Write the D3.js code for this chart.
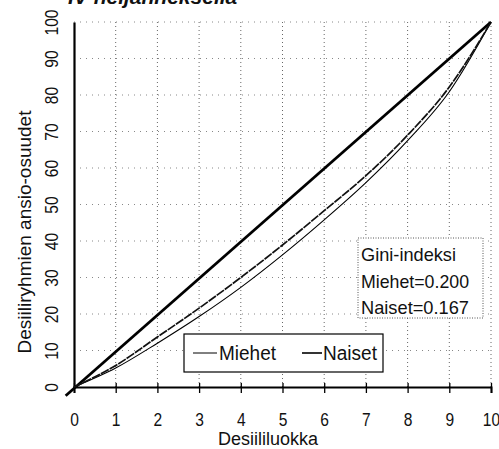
<!DOCTYPE html>
<html>
<head>
<meta charset="utf-8">
<script src="https://d3js.org/d3.v7.min.js"></script>
<style>
  body { margin: 0; background: #fff; }
  text { font-family: "Liberation Sans", Arial, sans-serif; fill: #111; }
</style>
</head>
<body>
<div id="chart"></div>
<script>
// data
var deciles = [0, 1, 2, 3, 4, 5, 6, 7, 8, 9, 10];
var miehet = [0, 5.2, 12.0, 19.3, 27.3, 36.2, 45.8, 56.0, 67.5, 80.9, 100];
var naiset = [0, 5.9, 13.7, 21.6, 30.0, 38.9, 48.3, 57.9, 69.0, 82.2, 100];
var xTicks = [0, 1, 2, 3, 4, 5, 6, 7, 8, 9, 10];
var yTicks = [0, 10, 20, 30, 40, 50, 60, 70, 80, 90, 100];
var giniLines = ["Gini-indeksi", "Miehet=0.200", "Naiset=0.167"];
var seriesNames = ["Miehet", "Naiset"];

// dimensions and margins
var margin = {top: 22, right: 8, bottom: 62, left: 74},
  width = 499 - margin.left - margin.right,
  height = 449 - margin.top - margin.bottom;

var svg = d3.select("#chart")
  .append("svg")
  .attr("width", 499)
  .attr("height", 449);

// cut-off title at the very top
svg.append("text")
  .attr("x", 68)
  .attr("y", 4)
  .style("font-size", "21px")
  .style("font-weight", "bold")
  .style("font-style", "italic")
  .text("IV neljänneksellä");

var g = svg.append("g")
  .attr("transform", "translate(" + margin.left + "," + margin.top + ")");

var x = d3.scaleLinear().domain([0, 10]).range([0, width]);
var y = d3.scaleLinear().domain([0, 100]).range([height, 0]);

// dotted grid
g.selectAll(".vgrid")
  .data(xTicks.slice(1))
  .enter()
  .append("line")
  .attr("x1", function(d) { return x(d); })
  .attr("x2", function(d) { return x(d); })
  .attr("y1", 0)
  .attr("y2", height)
  .style("stroke", "#666")
  .style("stroke-width", 1)
  .style("stroke-dasharray", "1,3");

g.selectAll(".hgrid")
  .data(yTicks.slice(1))
  .enter()
  .append("line")
  .attr("x1", 0)
  .attr("x2", width)
  .attr("y1", function(d) { return y(d); })
  .attr("y2", function(d) { return y(d); })
  .style("stroke", "#888")
  .style("stroke-width", 1)
  .style("stroke-dasharray", "1,5");

// x axis
var xAxis = g.append("g")
  .attr("transform", "translate(0," + height + ")")
  .call(d3.axisBottom(x).tickValues(xTicks).tickSize(6).tickPadding(20).tickFormat(d3.format("d")));
xAxis.select(".domain").style("stroke", "#000").style("stroke-width", 2);
xAxis.selectAll(".tick line").attr("y1", -4).style("stroke-width", 1.3);
xAxis.selectAll(".tick text")
  .style("font-size", "19px")
  .attr("dy", "0.71em")
  .attr("transform", "scale(0.82,1)");

// y axis
var yAxis = g.append("g")
  .call(d3.axisLeft(y).tickValues(yTicks).tickSize(0).tickFormat(d3.format("d")));
yAxis.select(".domain").style("stroke", "#000").style("stroke-width", 2.2);
yAxis.selectAll(".tick text")
  .style("font-size", "19px")
  .attr("text-anchor", "middle")
  .attr("x", 0)
  .attr("dy", 0)
  .attr("transform", "translate(-16,0) rotate(-90) scale(0.82,1)");

// axis titles
svg.append("text")
  .attr("x", 268)
  .attr("y", 445)
  .attr("text-anchor", "middle")
  .style("font-size", "18px")
  .text("Desiililuokka");

svg.append("text")
  .attr("transform", "translate(31,232) rotate(-90)")
  .attr("text-anchor", "middle")
  .style("font-size", "19px")
  .text("Desiiliryhmien ansio-osuudet");

// equality line
g.append("line")
  .attr("x1", x(-0.2))
  .attr("y1", y(-2.4))
  .attr("x2", x(10))
  .attr("y2", y(100))
  .style("stroke", "#000")
  .style("stroke-width", 2.8);

// lorenz curves
var line = d3.line()
  .x(function(d) { return x(d[0]); })
  .y(function(d) { return y(d[1]); })
  .curve(d3.curveMonotoneX);

g.append("path")
  .datum(d3.zip(deciles, miehet))
  .attr("d", line)
  .style("fill", "none")
  .style("stroke", "#000")
  .style("stroke-width", 1.1);

g.append("path")
  .datum(d3.zip(deciles, naiset))
  .attr("d", line)
  .style("fill", "none")
  .style("stroke", "#111")
  .style("stroke-width", 1.7)
  .style("stroke-dasharray", "9,1");

// legend
var legend = svg.append("g");
legend.append("rect")
  .attr("x", 184)
  .attr("y", 334)
  .attr("width", 199)
  .attr("height", 38)
  .style("fill", "#fff")
  .style("stroke", "#000")
  .style("stroke-width", 1.2);

var legX = [193, 302];
legend.selectAll(".legline")
  .data(seriesNames)
  .enter()
  .append("line")
  .attr("x1", function(d, i) { return legX[i]; })
  .attr("x2", function(d, i) { return legX[i] + (i == 0 ? 24 : 20); })
  .attr("y1", 353)
  .attr("y2", 353)
  .style("stroke", "#000")
  .style("stroke-width", function(d, i) { return i == 0 ? 1 : 1.6; });

legend.selectAll(".legtext")
  .data(seriesNames)
  .enter()
  .append("text")
  .attr("x", function(d, i) { return i == 0 ? 219 : 323; })
  .attr("y", 360)
  .style("font-size", "20px")
  .attr("textLength", function(d, i) { return i == 0 ? 57 : 54; })
  .attr("lengthAdjust", "spacingAndGlyphs")
  .text(function(d) { return d; });

// gini box
var gini = svg.append("g");
gini.append("rect")
  .attr("x", 358)
  .attr("y", 238)
  .attr("width", 125)
  .attr("height", 80)
  .style("fill", "#fff")
  .style("stroke", "#555")
  .style("stroke-width", 1)
  .style("stroke-dasharray", "1,1.5");

gini.selectAll("text")
  .data(giniLines)
  .enter()
  .append("text")
  .attr("x", 361)
  .attr("y", function(d, i) { return 261 + i * 26.5; })
  .style("font-size", "19px")
  .attr("textLength", function(d, i) { return i == 0 ? 95 : 108; })
  .attr("lengthAdjust", "spacingAndGlyphs")
  .text(function(d) { return d; });
</script>
</body>
</html>
